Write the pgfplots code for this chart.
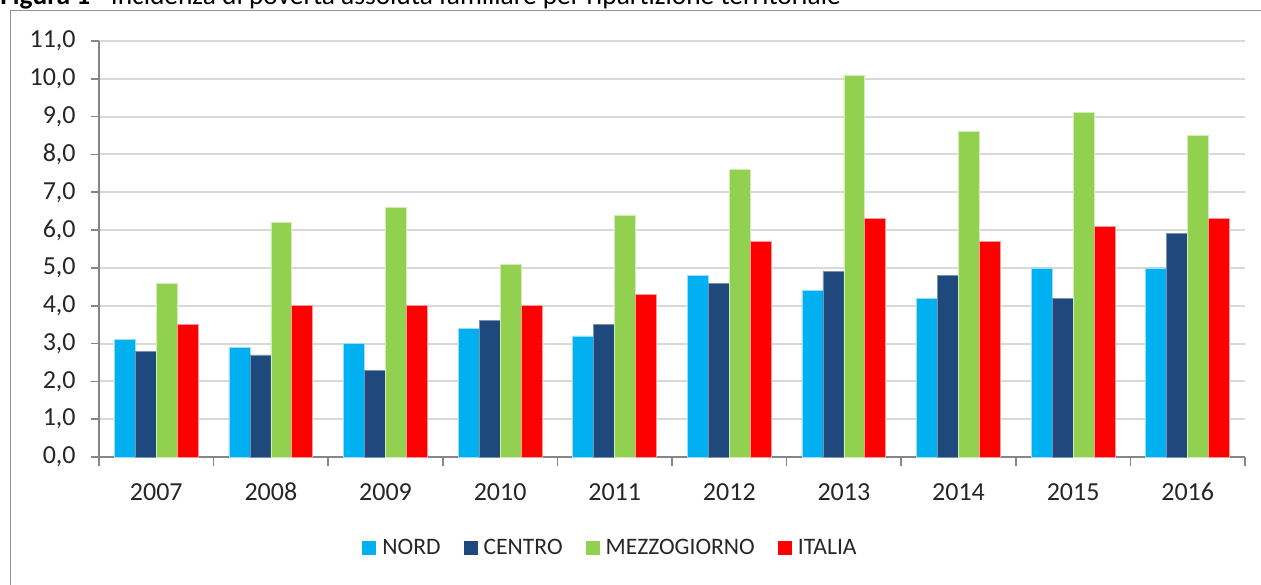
\documentclass[border=0pt]{standalone}
\usepackage{fontspec}
\setmainfont{Carlito}
\usepackage{pgfplots}
\pgfplotsset{compat=1.18}
\definecolor{nord}{HTML}{00B0F0}
\definecolor{centro}{HTML}{1F497D}
\definecolor{mezzo}{HTML}{92D050}
\definecolor{italia}{HTML}{FF0000}
\definecolor{axgray}{HTML}{868686}
\definecolor{grid}{HTML}{D9D9D9}
\definecolor{txt}{HTML}{262626}
\begin{document}
\begin{tikzpicture}
\useasboundingbox (0,0) rectangle (630.5pt,-292pt);
\node[anchor=base west, inner sep=0pt, font=\fontsize{13.7pt}{15pt}\selectfont] at (0pt,-2pt)
  {\textbf{Figura 1 -} Incidenza di povertà assoluta familiare per ripartizione territoriale};
\draw[color=axgray!90, line width=0.9pt] (5.25pt,-300pt) -- (5.25pt,-5.25pt) -- (640pt,-5.25pt);
\begin{axis}[
  at={(49.5pt,-228.5pt)}, anchor=south west,
  scale only axis,
  width=573pt, height=208pt,
  ybar=0pt,
  bar width=0.183,
  xmin=-0.5, xmax=9.5,
  ymin=0, ymax=11,
  axis x line*=bottom,
  axis y line*=left,
  axis line style={color=axgray, line width=0.8pt},
  xtick={0,...,9},
  xticklabels={2007,2008,2009,2010,2011,2012,2013,2014,2015,2016},
  minor xtick={-0.5,0.5,...,9.5},
  major x tick style={draw=none},
  minor x tick style={color=axgray, line width=0.8pt},
  minor tick length=4.5pt,
  ytick={0,1,...,11},
  major y tick style={color=axgray, line width=0.8pt},
  major tick length=4pt,
  tick align=outside,
  ymajorgrids,
  grid style={color=grid, line width=1pt},
  tick label style={font=\fontsize{13pt}{15pt}\selectfont, text=txt},
  xticklabel style={anchor=base, inner sep=0pt, yshift=-17.5pt},
  yticklabel style={anchor=east, inner sep=0pt, xshift=-7.5pt},
  /pgf/number format/.cd, fixed, fixed zerofill, precision=1, use comma, assume math mode=true,
  /pgfplots/.cd,
  legend columns=-1,
  legend style={at={(axis description cs:0.2295,-0.21875)}, anchor=west, draw=none, fill=none,
    inner sep=0pt, column sep=1pt, font=\fontsize{11.8pt}{14pt}\selectfont, text=txt,
    /tikz/every even column/.append style={column sep=9.5pt}},
  legend image code/.code={\fill[#1, draw=none] (0pt,-3.5pt) rectangle (7pt,3.5pt);},
]
\addplot[fill=nord, draw=nord!40!white, line width=0.4pt] coordinates {
  (0,3.1) (1,2.9) (2,3.0) (3,3.4) (4,3.2) (5,4.8) (6,4.4) (7,4.2) (8,5.0) (9,5.0)};
\addplot[fill=centro, draw=centro!60!white, line width=0.4pt] coordinates {
  (0,2.8) (1,2.7) (2,2.3) (3,3.6) (4,3.5) (5,4.6) (6,4.9) (7,4.8) (8,4.2) (9,5.9)};
\addplot[fill=mezzo, draw=mezzo!40!white, line width=0.4pt] coordinates {
  (0,4.6) (1,6.2) (2,6.6) (3,5.1) (4,6.4) (5,7.6) (6,10.1) (7,8.6) (8,9.1) (9,8.5)};
\addplot[fill=italia, draw=italia!40!white, line width=0.4pt] coordinates {
  (0,3.5) (1,4.0) (2,4.0) (3,4.0) (4,4.3) (5,5.7) (6,6.3) (7,5.7) (8,6.1) (9,6.3)};
\legend{NORD, CENTRO, MEZZOGIORNO, ITALIA}
\end{axis}
\end{tikzpicture}
\end{document}
